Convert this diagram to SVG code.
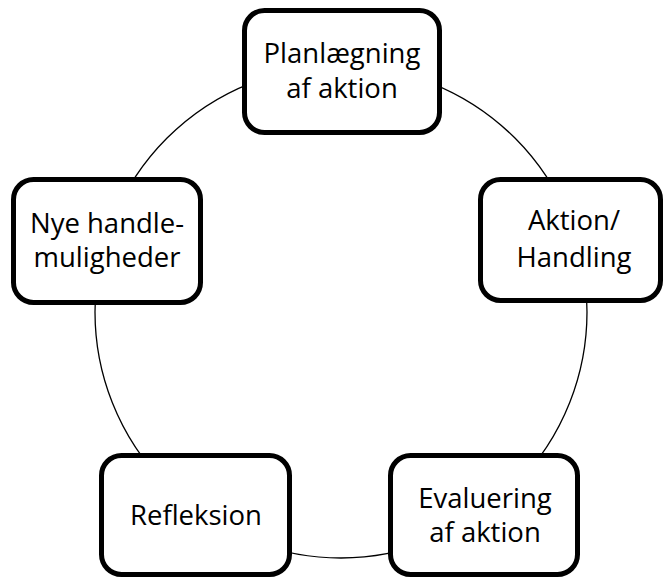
<svg xmlns="http://www.w3.org/2000/svg" width="665" height="579" viewBox="0 0 665 579">
<style>
.box{fill:#fff;stroke:#000;stroke-width:5}
.lbl{font-family:"Open Sans","Liberation Sans",sans-serif;font-size:27.5px;fill:#000;text-anchor:middle}
</style>
<rect width="665" height="579" fill="#fff"/>
<g id="connectors">
<circle cx="341" cy="312" r="246" fill="none" stroke="#000" stroke-width="1.3"/>
</g>
<g id="n1">
<rect class="box" x="244.5" y="10.5" width="195" height="122" rx="20"/>
<text class="lbl" x="342" y="63">Planlægning</text>
<text class="lbl" x="342" y="98">af aktion</text>
</g>
<g id="n2">
<rect class="box" x="480.5" y="179.5" width="180" height="121" rx="20"/>
<text class="lbl" x="574" y="230">Aktion/</text>
<text class="lbl" x="574" y="267">Handling</text>
</g>
<g id="n3">
<rect class="box" x="101.5" y="455.5" width="188" height="119" rx="20"/>
<text class="lbl" x="196" y="525">Refleksion</text>
</g>
<g id="n4">
<rect class="box" x="390.5" y="455.5" width="187" height="119" rx="20"/>
<text class="lbl" x="485" y="508">Evaluering</text>
<text class="lbl" x="485" y="542">af aktion</text>
</g>
<g id="n5">
<rect class="box" x="13.5" y="179.5" width="187" height="123" rx="20"/>
<text class="lbl" x="107" y="233">Nye handle-</text>
<text class="lbl" x="107" y="267">muligheder</text>
</g>
</svg>
